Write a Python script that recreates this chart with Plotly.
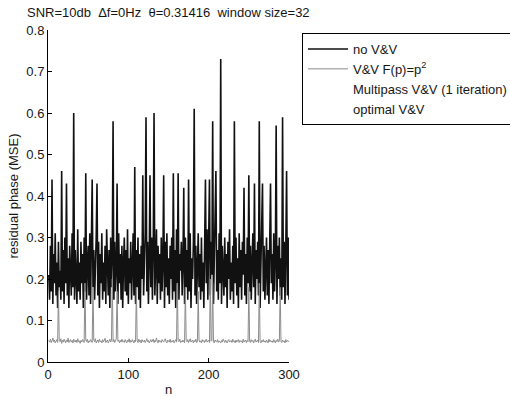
import plotly.graph_objects as go

# Sample index
n = list(range(1, 301))

# Residual phase MSE without V&V
no_vv = [
    0.21, 0.15, 0.28, 0.17, 0.44, 0.14, 0.26, 0.19, 0.31, 0.16,
    0.24, 0.13, 0.29, 0.18, 0.22, 0.15, 0.46, 0.17, 0.27, 0.14,
    0.30, 0.19, 0.43, 0.16, 0.25, 0.13, 0.28, 0.20, 0.16, 0.31,
    0.18, 0.60, 0.15, 0.27, 0.21, 0.14, 0.32, 0.17, 0.24, 0.15,
    0.29, 0.19, 0.26, 0.13, 0.30, 0.17, 0.455, 0.15, 0.23, 0.28,
    0.16, 0.31, 0.14, 0.25, 0.44, 0.18, 0.27, 0.15, 0.22, 0.30,
    0.43, 0.16, 0.29, 0.13, 0.26, 0.19, 0.31, 0.15, 0.24, 0.17,
    0.28, 0.14, 0.32, 0.20, 0.16, 0.27, 0.13, 0.30, 0.18, 0.25,
    0.58, 0.15, 0.29, 0.17, 0.22, 0.43, 0.14, 0.31, 0.19, 0.26,
    0.15, 0.28, 0.13, 0.24, 0.30, 0.17, 0.27, 0.16, 0.32, 0.14,
    0.25, 0.19, 0.29, 0.15, 0.22, 0.31, 0.16, 0.47, 0.14, 0.27,
    0.18, 0.30, 0.15, 0.26, 0.13, 0.28, 0.20, 0.45, 0.16, 0.24,
    0.31, 0.59, 0.17, 0.29, 0.14, 0.25, 0.45, 0.18, 0.30, 0.15,
    0.27, 0.60, 0.16, 0.23, 0.32, 0.14, 0.28, 0.19, 0.26, 0.15,
    0.30, 0.17, 0.24, 0.45, 0.13, 0.29, 0.18, 0.31, 0.16, 0.25,
    0.14, 0.28, 0.20, 0.30, 0.15, 0.455, 0.17, 0.27, 0.13, 0.32,
    0.19, 0.455, 0.15, 0.26, 0.22, 0.29, 0.16, 0.24, 0.42, 0.14,
    0.30, 0.18, 0.27, 0.15, 0.44, 0.17, 0.31, 0.13, 0.25, 0.20,
    0.29, 0.61, 0.16, 0.28, 0.14, 0.23, 0.31, 0.18, 0.26, 0.15,
    0.30, 0.17, 0.24, 0.13, 0.28, 0.44, 0.19, 0.32, 0.15, 0.27,
    0.44, 0.16, 0.29, 0.21, 0.58, 0.14, 0.25, 0.30, 0.46, 0.17,
    0.27, 0.15, 0.31, 0.19, 0.73, 0.14, 0.28, 0.22, 0.16, 0.30,
    0.18, 0.26, 0.13, 0.29, 0.20, 0.32, 0.15, 0.24, 0.17, 0.28,
    0.14, 0.58, 0.19, 0.30, 0.16, 0.25, 0.13, 0.31, 0.18, 0.27,
    0.15, 0.29, 0.21, 0.42, 0.16, 0.26, 0.14, 0.30, 0.19, 0.45,
    0.17, 0.28, 0.15, 0.24, 0.31, 0.18, 0.43, 0.14, 0.27, 0.20,
    0.29, 0.16, 0.58, 0.13, 0.25, 0.31, 0.43, 0.17, 0.28, 0.15,
    0.23, 0.30, 0.16, 0.27, 0.14, 0.29, 0.43, 0.19, 0.26, 0.15,
    0.31, 0.17, 0.24, 0.57, 0.14, 0.28, 0.20, 0.30, 0.16, 0.25,
    0.15, 0.59, 0.18, 0.29, 0.14, 0.27, 0.46, 0.16, 0.30, 0.15,
]

# Residual phase MSE with V&V, F(p) = p^2
vv_p2 = [
    0.052, 0.048, 0.055, 0.047, 0.051, 0.058, 0.049, 0.053, 0.046, 0.050,
    0.054, 0.047, 0.17, 0.051, 0.049, 0.056, 0.045, 0.052, 0.048, 0.055,
    0.050, 0.046, 0.053, 0.049, 0.057, 0.047, 0.051, 0.054, 0.048, 0.052,
    0.046, 0.055, 0.050, 0.048, 0.053, 0.047, 0.056, 0.049, 0.051, 0.045,
    0.052, 0.048, 0.054, 0.050, 0.047, 0.19, 0.053, 0.049, 0.055, 0.046,
    0.051, 0.048, 0.054, 0.050, 0.047, 0.18, 0.052, 0.049, 0.056, 0.046,
    0.050, 0.053, 0.047, 0.055, 0.049, 0.051, 0.046, 0.054, 0.048, 0.052,
    0.057, 0.047, 0.050, 0.053, 0.046, 0.051, 0.055, 0.048, 0.052, 0.20,
    0.049, 0.054, 0.047, 0.051, 0.056, 0.17, 0.050, 0.053, 0.046, 0.052,
    0.048, 0.055, 0.049, 0.051, 0.047, 0.054, 0.050, 0.046, 0.053, 0.049,
    0.056, 0.047, 0.052, 0.048, 0.054, 0.050, 0.046, 0.053, 0.049, 0.18,
    0.051, 0.047, 0.055, 0.049, 0.052, 0.046, 0.054, 0.050, 0.048, 0.053,
    0.047, 0.051, 0.056, 0.049, 0.052, 0.046, 0.050, 0.054, 0.048, 0.051,
    0.055, 0.047, 0.052, 0.049, 0.058, 0.050, 0.046, 0.053, 0.049, 0.051,
    0.047, 0.054, 0.050, 0.048, 0.052, 0.056, 0.049, 0.046, 0.053, 0.050,
    0.048, 0.055, 0.047, 0.051, 0.049, 0.053, 0.046, 0.050, 0.054, 0.048,
    0.19, 0.052, 0.049, 0.055, 0.047, 0.051, 0.048, 0.053, 0.050, 0.046,
    0.18, 0.052, 0.049, 0.054, 0.047, 0.051, 0.056, 0.048, 0.050, 0.053,
    0.046, 0.052, 0.049, 0.055, 0.047, 0.050, 0.17, 0.053, 0.048, 0.051,
    0.046, 0.054, 0.049, 0.052, 0.047, 0.050, 0.055, 0.048, 0.051, 0.053,
    0.047, 0.20, 0.050, 0.052, 0.19, 0.049, 0.046, 0.053, 0.050, 0.048,
    0.054, 0.047, 0.051, 0.049, 0.046, 0.052, 0.048, 0.055, 0.050, 0.047,
    0.053, 0.049, 0.046, 0.051, 0.054, 0.048, 0.050, 0.052, 0.047, 0.055,
    0.049, 0.051, 0.046, 0.053, 0.048, 0.050, 0.054, 0.047, 0.052, 0.049,
    0.051, 0.046, 0.055, 0.048, 0.050, 0.053, 0.047, 0.052, 0.049, 0.18,
    0.050, 0.047, 0.054, 0.049, 0.052, 0.046, 0.051, 0.055, 0.048, 0.050,
    0.053, 0.047, 0.19, 0.050, 0.046, 0.052, 0.049, 0.054, 0.048, 0.051,
    0.047, 0.053, 0.050, 0.046, 0.055, 0.049, 0.052, 0.048, 0.051, 0.047,
    0.054, 0.050, 0.046, 0.052, 0.049, 0.055, 0.048, 0.051, 0.18, 0.050,
    0.047, 0.053, 0.049, 0.051, 0.046, 0.054, 0.048, 0.052, 0.050, 0.049,
]

x_ticks = [0, 100, 200, 300]
y_ticks = [0, 0.1, 0.2, 0.3, 0.4, 0.5, 0.6, 0.7, 0.8]

FONT = "Liberation Sans, Arial, sans-serif"
INK = "#161616"
sp = "\u00a0\u00a0"

fig = go.Figure()
fig.add_trace(go.Scatter(x=n, y=no_vv, mode="lines", name="no V&V",
                         line=dict(color="#111111", width=1.6)))
fig.add_trace(go.Scatter(x=n, y=vv_p2, mode="lines", name="V&V F(p)=p<sup>2</sup>",
                         line=dict(color="#8c8c8c", width=1)))
# remaining legend entries carry no visible line
fig.add_trace(go.Scatter(x=[None], y=[None], mode="lines",
                         name="Multipass V&V (1 iteration)",
                         line=dict(color="rgba(0,0,0,0)", width=1)))
fig.add_trace(go.Scatter(x=[None], y=[None], mode="lines", name="optimal V&V",
                         line=dict(color="rgba(0,0,0,0)", width=1)))

axis_common = dict(showline=True, linecolor="black", linewidth=1,
                   ticks="inside", ticklen=4, tickcolor="black",
                   showgrid=False, zeroline=False, mirror=False,
                   automargin=False,
                   tickfont=dict(family=FONT, size=13, color=INK))

fig.update_layout(
    width=510, height=397,
    margin=dict(l=48, r=221, t=30, b=35),
    paper_bgcolor="white", plot_bgcolor="white",
    font=dict(family=FONT, size=12, color=INK),
    title=dict(text=f"SNR=10db{sp}\u0394f=0Hz{sp}\u03b8=0.31416{sp}window size=32",
               xref="container", x=27 / 510, xanchor="left",
               yref="container", y=1 - 12 / 397, yanchor="middle",
               font=dict(family=FONT, size=13, color=INK)),
    xaxis=dict(range=[0, 300], tickvals=x_ticks,
               title=dict(text="n", standoff=8,
                          font=dict(family=FONT, size=13, color=INK)),
               **axis_common),
    yaxis=dict(range=[0, 0.8], tickvals=y_ticks,
               title=dict(text="residual phase (MSE)", standoff=4,
                          font=dict(family=FONT, size=13, color=INK)),
               **axis_common),
    legend=dict(xref="container", yref="container",
                x=302 / 510, y=1 - 33 / 397, xanchor="left", yanchor="top",
                bordercolor="black", borderwidth=1, bgcolor="white",
                font=dict(family=FONT, size=13, color=INK),
                itemwidth=40, tracegroupgap=0),
    showlegend=True,
)

fig.write_html("out.html")
